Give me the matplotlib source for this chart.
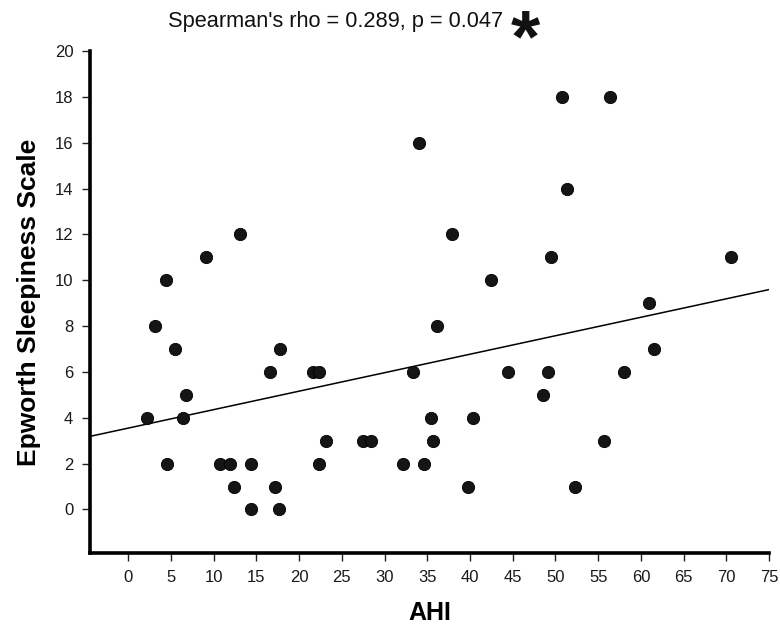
import matplotlib
matplotlib.use("Agg")
import matplotlib.pyplot as plt
import numpy as np


# AHI (x) and Epworth Sleepiness Scale (y)
ahi = [
    3.1, 5.5, 17.7, 16.6, 21.6, 22.3, 6.8, 2.2, 6.4, 23.1,
    4.5, 10.7, 11.9, 14.4, 22.3, 12.4, 17.2, 14.4, 17.6, 36.1,
    33.3, 44.4, 49.1, 48.5, 35.4, 40.4, 27.5, 28.4, 35.7, 32.2,
    34.6, 39.8, 52.3, 50.8, 34.0, 51.4, 37.9, 49.5, 42.4, 56.4,
    70.6, 60.9, 61.5, 58.0, 55.7, 13.1, 9.1, 4.4,
]
ess = [
    8, 7, 7, 6, 6, 6, 5, 4, 4, 3,
    2, 2, 2, 2, 2, 1, 1, 0, 0, 8,
    6, 6, 6, 5, 4, 4, 3, 3, 3, 2,
    2, 1, 1, 18, 16, 14, 12, 11, 10, 18,
    11, 9, 7, 6, 3, 12, 11, 10,
]

# fitted line as drawn in the figure
fit_intercept = 3.55
fit_slope = 0.0806

x_ticks = list(range(0, 80, 5))
y_ticks = list(range(0, 22, 2))

narrow = ["Liberation Sans Narrow", "Liberation Sans", "DejaVu Sans"]
wide = ["Liberation Sans", "DejaVu Sans"]

fig = plt.figure(figsize=(7.8, 6.39), dpi=100)
ax = fig.add_axes([0.1154, 0.1346, 0.8706, 0.7854])

ax.scatter(ahi, ess, s=78, color="#151515", edgecolor="black",
           linewidth=0.6, zorder=3)

x0, x1 = -4.48, 75
xs = np.array([x0, x1])
ax.plot(xs, fit_intercept + fit_slope * xs, color="black", lw=1.1, zorder=2)

ax.set_xlim(x0, x1)
ax.set_ylim(-1.9, 20)
ax.set_xticks(x_ticks)
ax.set_yticks(y_ticks)

for side in ("top", "right"):
    ax.spines[side].set_visible(False)
for side in ("left", "bottom"):
    ax.spines[side].set_linewidth(2.6)

ax.tick_params(axis="both", direction="out", length=6, width=1.0,
               color="#222222")
ax.tick_params(axis="x", pad=6)
ax.tick_params(axis="y", pad=6)
for lab in ax.get_xticklabels() + ax.get_yticklabels():
    lab.set_family(narrow)
    lab.set_fontsize(12)
    lab.set_color("#1a1a1a")

ax.set_xlabel("AHI", family=wide, fontsize=18, fontweight="bold",
              labelpad=12)
ax.set_ylabel("Epworth Sleepiness Scale", family=wide, fontsize=19,
              fontweight="bold", labelpad=10)

fig.text(0.43, 0.966, "Spearman's rho = 0.289, p = 0.047", family=narrow,
         fontsize=15.7, ha="center", va="center", color="#111111")
fig.text(0.674, 0.935, "*", family=wide, fontsize=54, fontweight="bold",
         ha="center", va="center", color="#111111")

fig.savefig("out.png", dpi=100)
